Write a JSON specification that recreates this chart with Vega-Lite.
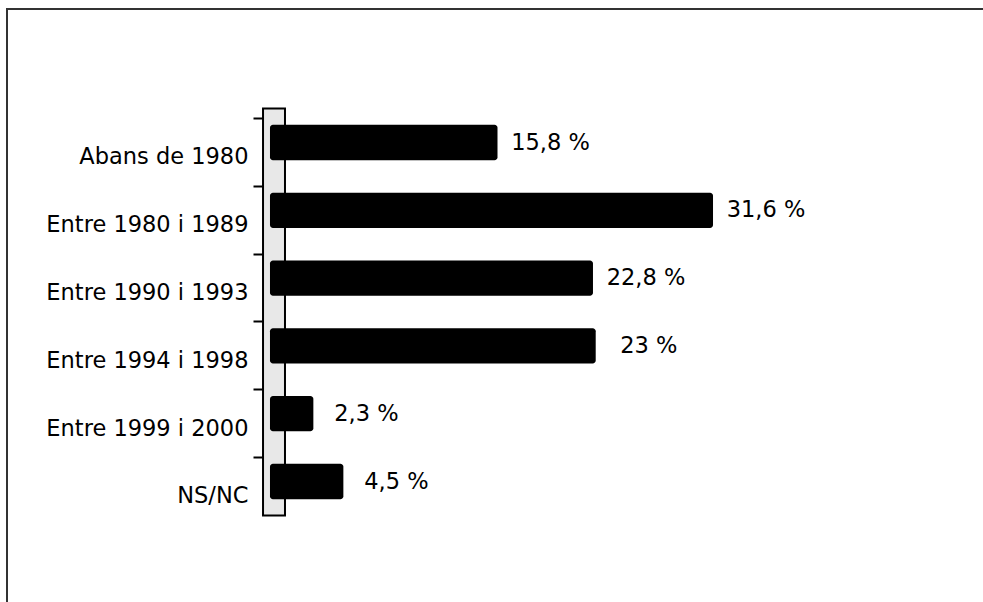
{
  "$schema": "https://vega.github.io/schema/vega-lite/v6.json",
  "autosize": {"type": "none"},
  "padding": {"left": 7, "top": 9, "right": 0, "bottom": 0},
  "width": 990,
  "height": 606,
  "background": "white",
  "config": {"view": {"stroke": "#333", "strokeWidth": 2}, "font": "DejaVu Sans"},
  "data": {"values": [
    {"periode": "Abans de 1980", "pct": 15.8, "etiqueta": "15,8 %"},
    {"periode": "Entre 1980 i 1989", "pct": 31.6, "etiqueta": "31,6 %"},
    {"periode": "Entre 1990 i 1993", "pct": 22.8, "etiqueta": "22,8 %"},
    {"periode": "Entre 1994 i 1998", "pct": 23, "etiqueta": "23 %"},
    {"periode": "Entre 1999 i 2000", "pct": 2.3, "etiqueta": "2,3 %"},
    {"periode": "NS/NC", "pct": 4.5, "etiqueta": "4,5 %"}
  ]},
  "encoding": {
    "y": {
      "field": "periode",
      "type": "nominal",
      "scale": {"range": [99.6, 506.4], "paddingInner": 0, "paddingOuter": 0},
      "axis": {
        "orient": "left",
        "offset": -256,
        "title": null,
        "domain": false,
        "grid": false,
        "bandPosition": 0,
        "tickOffset": 9.4,
        "labelOffset": 5,
        "tickSize": 10,
        "tickWidth": 2,
        "tickColor": "#000",
        "labelFont": "DejaVu Sans",
        "labelFontSize": 22.5,
        "labelColor": "#000",
        "labelPadding": 5,
        "labelLimit": 300,
        "labelAlign": "right",
        "labelBaseline": "middle"
      }
    }
  },
  "layer": [
    {
      "data": {"values": [{}]},
      "mark": {"type": "rect", "fill": "#e8e8e8", "stroke": "#000", "strokeWidth": 2},
      "encoding": {
        "x": {"datum": -1.39, "type": "quantitative", "scale": {"domain": [-20.16, 52.42], "nice": false, "zero": false}, "axis": null},
        "x2": {"datum": 0.22},
        "y": {"datum": "Abans de 1980", "type": "nominal", "bandPosition": 0},
        "y2": {"datum": "NS/NC", "bandPosition": 1}
      }
    },
    {
      "mark": {"type": "bar", "color": "#000", "cornerRadius": 3, "height": {"band": 0.52}},
      "encoding": {
        "x": {"field": "pct", "type": "quantitative", "scale": {"domain": [-20.16, 52.42], "nice": false, "zero": false}, "axis": null},
        "x2": {"datum": -0.88}
      }
    },
    {
      "mark": {"type": "text", "align": "center", "baseline": "middle", "dx": 53, "fontSize": 22.5, "font": "DejaVu Sans", "color": "#000"},
      "encoding": {
        "x": {"field": "pct", "type": "quantitative", "scale": {"domain": [-20.16, 52.42], "nice": false, "zero": false}, "axis": null},
        "text": {"field": "etiqueta", "type": "nominal"}
      }
    }
  ]
}
